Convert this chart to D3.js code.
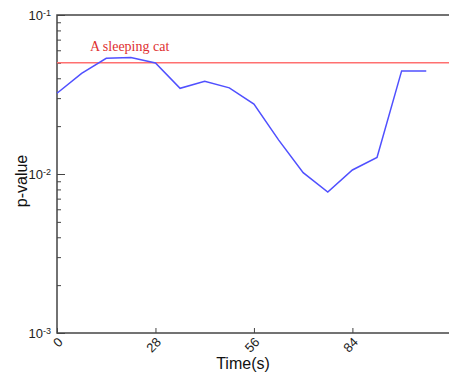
<!DOCTYPE html>
<html>
<head>
<meta charset="utf-8">
<script src="https://cdn.jsdelivr.net/npm/d3@7"></script>
<style>
  body { margin: 0; background: #fff; overflow: hidden; }
  svg { display: block; }
</style>
</head>
<body>
<div id="chart"></div>
<script>
// time steps (s) and measured p-values
const TIMES = [0, 7, 14, 21, 28, 35, 42, 49, 56, 63, 70, 77, 84, 91, 98, 105];
const P_VALUES = [0.0322, 0.0429, 0.0534, 0.0541, 0.0499, 0.0346, 0.0383, 0.0348,
                  0.0275, 0.0164, 0.0102, 0.0077, 0.0106, 0.0127, 0.0445, 0.0445];
const THRESHOLD = 0.05;
const THRESHOLD_LABEL = 'A sleeping cat';
const X_TICKS = [0, 28, 56, 84];
const Y_MAJOR = [1e-3, 1e-2, 1e-1];

const WIDTH = 449;
const HEIGHT = 374;

const svg = d3.select('#chart')
  .append('svg')
  .attr('width', WIDTH)
  .attr('height', HEIGHT);

// scales: plot continues past the right edge of the window
const x = d3.scaleLinear().domain([0, 120]).range([57, 479]);
const y = d3.scaleLog().domain([1e-3, 1e-1]).range([333, 15]);

const AXIS_COLOR = '#444';

// frame
svg.append('rect')
  .attr('x', x(0)).attr('y', y(1e-1))
  .attr('width', x(120) - x(0)).attr('height', y(1e-3) - y(1e-1))
  .attr('fill', 'none')
  .attr('stroke', AXIS_COLOR)
  .attr('stroke-width', 1.5);

// y axis minor ticks
const minor = [];
[1e-3, 1e-2].forEach(d => { for (let k = 2; k <= 9; k++) minor.push(d * k); });
svg.append('g')
  .attr('transform', `translate(${x(0)},0)`)
  .call(d3.axisLeft(y).tickValues(minor).tickSize(-4).tickFormat(''))
  .call(g => g.select('.domain').remove())
  .call(g => g.selectAll('line').attr('stroke', AXIS_COLOR));

// y axis major ticks with 10^n labels
const yAxis = svg.append('g')
  .attr('transform', `translate(${x(0)},0)`)
  .call(d3.axisLeft(y).tickValues(Y_MAJOR).tickSize(-8).tickPadding(6).tickFormat(''))
  .call(g => g.select('.domain').remove())
  .call(g => g.selectAll('line').attr('stroke', AXIS_COLOR));
yAxis.selectAll('.tick text')
  .attr('font-family', 'Liberation Sans, Arial, sans-serif')
  .attr('font-size', 13)
  .attr('fill', '#222')
  .each(function(d) {
    const t = d3.select(this);
    t.append('tspan').text('10');
    t.append('tspan').attr('dy', '-0.45em').attr('font-size', 9).text(Math.round(Math.log10(d)));
  });

// x axis
const xAxis = svg.append('g')
  .attr('transform', `translate(0,${y(1e-3)})`)
  .call(d3.axisBottom(x).tickValues(X_TICKS).tickSize(-5).tickPadding(0))
  .call(g => g.select('.domain').remove())
  .call(g => g.selectAll('line').attr('stroke', AXIS_COLOR));
xAxis.selectAll('.tick text')
  .attr('font-family', 'Liberation Sans, Arial, sans-serif')
  .attr('font-size', 13)
  .attr('fill', '#222')
  .attr('text-anchor', 'end')
  .attr('y', 0)
  .attr('dy', 0)
  .attr('transform', 'translate(6,10) rotate(-45)');

// axis titles
svg.append('text')
  .attr('x', 243).attr('y', 369)
  .attr('text-anchor', 'middle')
  .attr('font-family', 'Liberation Sans, Arial, sans-serif')
  .attr('font-size', 16)
  .attr('fill', '#111')
  .text('Time(s)');
svg.append('text')
  .attr('transform', 'translate(27,181) rotate(-90)')
  .attr('text-anchor', 'middle')
  .attr('font-family', 'Liberation Sans, Arial, sans-serif')
  .attr('font-size', 16)
  .attr('fill', '#111')
  .text('p-value');

// threshold line
svg.append('line')
  .attr('x1', x(0)).attr('x2', x(120))
  .attr('y1', y(THRESHOLD)).attr('y2', y(THRESHOLD))
  .attr('stroke', '#ff7070')
  .attr('stroke-width', 1.5);
svg.append('text')
  .attr('x', 90).attr('y', y(THRESHOLD) - 12)
  .attr('font-family', 'Liberation Serif, Times New Roman, serif')
  .attr('font-size', 14)
  .attr('fill', '#e03030')
  .text(THRESHOLD_LABEL);

// p-value series
const line = d3.line()
  .x((d, i) => x(TIMES[i]))
  .y(d => y(d));
svg.append('path')
  .datum(P_VALUES)
  .attr('d', line)
  .attr('fill', 'none')
  .attr('stroke', '#5050ff')
  .attr('stroke-width', 1.5);
</script>
</body>
</html>
